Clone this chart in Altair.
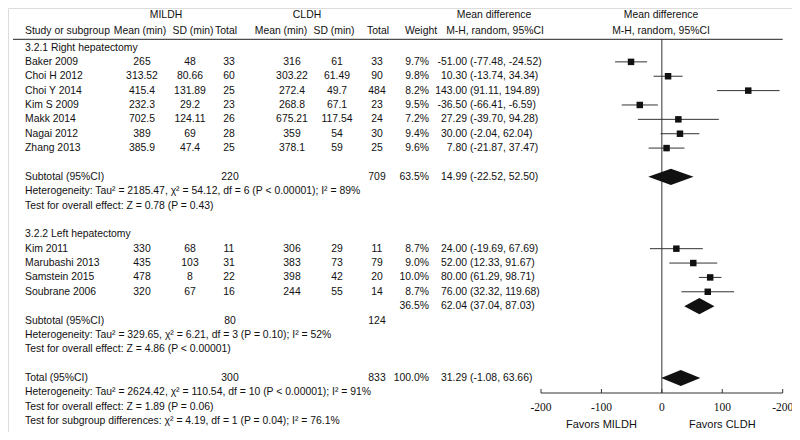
import altair as alt
import pandas as pd

# ---------------- data ----------------
group1_names = ["Baker 2009", "Choi H 2012", "Choi Y 2014", "Kim S 2009", "Makk 2014", "Nagai 2012", "Zhang 2013"]
group1_m_mean = [265, 313.52, 415.4, 232.3, 702.5, 389, 385.9]
group1_m_sd = [48, 80.66, 131.89, 29.2, 124.11, 69, 47.4]
group1_m_n = [33, 60, 25, 23, 26, 28, 25]
group1_c_mean = [316, 303.22, 272.4, 268.8, 675.21, 359, 378.1]
group1_c_sd = [61, 61.49, 49.7, 67.1, 117.54, 54, 59]
group1_c_n = [33, 90, 484, 23, 24, 30, 25]
group1_weight = [9.7, 9.8, 8.2, 9.5, 7.2, 9.4, 9.6]
group1_est = [-51.00, 10.30, 143.00, -36.50, 27.29, 30.00, 7.80]
group1_lo = [-77.48, -13.74, 91.11, -66.41, -39.70, -2.04, -21.87]
group1_hi = [-24.52, 34.34, 194.89, -6.59, 94.28, 62.04, 37.47]

group2_names = ["Kim 2011", "Marubashi 2013", "Samstein 2015", "Soubrane 2006"]
group2_m_mean = [330, 435, 478, 320]
group2_m_sd = [68, 103, 8, 67]
group2_m_n = [11, 31, 22, 16]
group2_c_mean = [306, 383, 398, 244]
group2_c_sd = [29, 73, 42, 55]
group2_c_n = [11, 79, 20, 14]
group2_weight = [8.7, 9.0, 10.0, 8.7]
group2_est = [24.00, 52.00, 80.00, 76.00]
group2_lo = [-19.69, 12.33, 61.29, 32.32]
group2_hi = [67.69, 91.67, 98.71, 119.68]

# pooled estimates: label, MILDH total, CLDH total, weight, est, lo, hi
pooled_labels = ["Subtotal (95%CI)", "Subtotal (95%CI)", "Total (95%CI)"]
pooled_m_n = [220, 80, 300]
pooled_c_n = [709, 124, 833]
pooled_weight = [63.5, 36.5, 100.0]
pooled_est = [14.99, 62.04, 31.29]
pooled_lo = [-22.52, 37.04, -1.08]
pooled_hi = [52.50, 87.03, 63.66]

subgroup_titles = ["3.2.1 Right hepatectomy", "3.2.2 Left hepatectomy"]
notes_group1 = ["Heterogeneity: Tau\u00b2 = 2185.47, \u03c7\u00b2 = 54.12, df = 6 (P < 0.00001); I\u00b2 = 89%",
                "Test for overall effect: Z = 0.78 (P = 0.43)"]
notes_group2 = ["Heterogeneity: Tau\u00b2 = 329.65, \u03c7\u00b2 = 6.21, df = 3 (P = 0.10); I\u00b2 = 52%",
                "Test for overall effect: Z = 4.86 (P < 0.00001)"]
notes_total = ["Heterogeneity: Tau\u00b2 = 2624.42, \u03c7\u00b2 = 110.54, df = 10 (P < 0.00001); I\u00b2 = 91%",
               "Test for overall effect: Z = 1.89 (P = 0.06)",
               "Test for subgroup differences: \u03c7\u00b2 = 4.19, df = 1 (P = 0.04); I\u00b2 = 76.1%"]

tick_values = [-200, -100, 0, 100, 200]
tick_labels = ["-200", "-100", "0", "100", "-200"]
favors_labels = ["Favors MILDH", "Favors CLDH"]
favors_at = [-100, 100]

# ---------------- row layout ----------------
g1_rows = list(range(1, 8))
g2_rows = list(range(14, 18))

studies = pd.DataFrame({
    "row": g1_rows + g2_rows,
    "name": group1_names + group2_names,
    "m_mean": [str(v) for v in group1_m_mean + group2_m_mean],
    "m_sd": [str(v) for v in group1_m_sd + group2_m_sd],
    "m_n": [str(v) for v in group1_m_n + group2_m_n],
    "c_mean": [str(v) for v in group1_c_mean + group2_c_mean],
    "c_sd": [str(v) for v in group1_c_sd + group2_c_sd],
    "c_n": [str(v) for v in group1_c_n + group2_c_n],
    "weight": [f"{w:.1f}%" for w in group1_weight + group2_weight],
    "est": group1_est + group2_est,
    "lo": group1_lo + group2_lo,
    "hi": group1_hi + group2_hi,
})
studies["est_txt"] = studies["est"].map(lambda v: f"{v:.2f}")
studies["ci_txt"] = [f"({a:.2f}, {b:.2f})" for a, b in zip(studies["lo"], studies["hi"])]

pooled_rows = [9, 18, 23]          # rows of the diamonds / weights
pooled_label_rows = [9, 19, 23]    # rows of the labels and totals
pooled = pd.DataFrame({
    "row": pooled_rows,
    "lrow": pooled_label_rows,
    "label": pooled_labels,
    "m_n": [str(v) for v in pooled_m_n],
    "c_n": [str(v) for v in pooled_c_n],
    "weight": [f"{w:.1f}%" for w in pooled_weight],
    "est_txt": [f"{v:.2f}" for v in pooled_est],
    "ci_txt": [f"({a:.2f}, {b:.2f})" for a, b in zip(pooled_lo, pooled_hi)],
})

left_text = pd.DataFrame({
    "row": [0, 13, 10, 11, 20, 21, 24, 25, 26],
    "text": [subgroup_titles[0], subgroup_titles[1]] + notes_group1 + notes_group2 + notes_total,
})

H = 0.56
dia_rows = []
for i, (r, e, lo, hi) in enumerate(zip(pooled_rows, pooled_est, pooled_lo, pooled_hi)):
    dia_rows += [
        {"id": i, "x": lo, "y1": r, "y2": r},
        {"id": i, "x": e, "y1": r - H, "y2": r + H},
        {"id": i, "x": hi, "y1": r, "y2": r},
    ]
diamonds = pd.DataFrame(dia_rows)

ticks = pd.DataFrame({"v": tick_values, "lab": tick_labels})
favors = pd.DataFrame({"v": favors_at, "lab": favors_labels})
zero = pd.DataFrame({"v": [0]})
axis_span = pd.DataFrame({"a": [tick_values[0]], "b": [tick_values[-1]]})

# ---------------- scales & styles ----------------
FONT = "Liberation Sans"
FS = 10.4
ROW0 = 39.5
STEP = 14.37
yscale = alt.Scale(domain=[0, 26], range=[ROW0, ROW0 + 26 * STEP], nice=False, zero=False)
xscale = alt.Scale(domain=[-200, 200], range=[533, 774.7], nice=False, zero=False)
Y = alt.Y("row:Q", scale=yscale, axis=None)
X = lambda f: alt.X(f, scale=xscale, axis=None)

def coltext(df, field, x, align="center", yfield="row"):
    return alt.Chart(df).mark_text(align=align, baseline="middle", font=FONT, fontSize=FS, color="#111").encode(
        x=alt.value(x), y=alt.Y(f"{yfield}:Q", scale=yscale, axis=None), text=f"{field}:N")

def label(text, x, y, align="center", font=FONT, size=FS):
    return alt.Chart(alt.Data(values=[{}])).mark_text(
        text=text, align=align, baseline="middle", font=font, fontSize=size, color="#111"
    ).encode(x=alt.value(x), y=alt.value(y))

layers = []
# headers
layers += [
    label("MILDH", 158, 6.5), label("CLDH", 299, 6.5),
    label("Mean difference", 486, 6.5), label("Mean difference", 653, 6.5),
    label("Study or subgroup", 17, 23, align="left"),
    label("Mean (min)", 132, 23), label("SD (min)", 185, 23), label("Total", 218, 23),
    label("Mean (min)", 273, 23), label("SD (min)", 326, 23), label("Total", 370, 23),
    label("Weight", 413, 23), label("M-H, random, 95%CI", 487, 23), label("M-H, random, 95%CI", 653, 23),
]
# header rule
layers.append(alt.Chart(alt.Data(values=[{}])).mark_rule(color="#222", strokeWidth=1).encode(
    x=alt.value(5), x2=alt.value(774.7), y=alt.value(31.3)))

# study table
layers += [
    coltext(studies, "name", 17, "left"),
    coltext(studies, "m_mean", 134), coltext(studies, "m_sd", 182), coltext(studies, "m_n", 221),
    coltext(studies, "c_mean", 284), coltext(studies, "c_sd", 329), coltext(studies, "c_n", 369),
    coltext(studies, "weight", 421, "right"),
    coltext(studies, "est_txt", 459, "right"),
    coltext(studies, "ci_txt", 462, "left"),
]
# pooled rows
layers += [
    coltext(pooled, "label", 17, "left", "lrow"),
    coltext(pooled, "m_n", 222, "center", "lrow"),
    coltext(pooled, "c_n", 369, "center", "lrow"),
    coltext(pooled, "weight", 421, "right"),
    coltext(pooled, "est_txt", 459, "right"),
    coltext(pooled, "ci_txt", 462, "left"),
]
layers.append(coltext(left_text, "text", 17, "left"))

# forest plot
layers.append(alt.Chart(zero).mark_rule(color="#333", strokeWidth=1).encode(
    x=X("v:Q"), y=alt.value(31), y2=alt.value(385)))
layers.append(alt.Chart(studies).mark_rule(color="#333", strokeWidth=1).encode(
    x=X("lo:Q"), x2="hi:Q", y=Y))
layers.append(alt.Chart(studies).mark_square(size=42, color="#111", opacity=1).encode(
    x=X("est:Q"), y=Y))
layers.append(alt.Chart(diamonds).mark_area(color="#111", opacity=1).encode(
    x=X("x:Q"), y=alt.Y("y1:Q", scale=yscale, axis=None), y2="y2:Q", detail="id:N"))

# bottom axis
layers.append(alt.Chart(axis_span).mark_rule(color="#333", strokeWidth=1).encode(
    x=X("a:Q"), x2="b:Q", y=alt.value(385)))
layers.append(alt.Chart(ticks).mark_rule(color="#333", strokeWidth=1).encode(
    x=X("v:Q"), y=alt.value(381), y2=alt.value(385)))
layers.append(alt.Chart(ticks).mark_text(font="Liberation Serif", fontSize=11.5, color="#111", baseline="middle").encode(
    x=X("v:Q"), y=alt.value(400), text="lab:N"))
layers.append(alt.Chart(favors).mark_text(font=FONT, fontSize=11, color="#111", baseline="middle").encode(
    x=X("v:Q"), y=alt.value(417), text="lab:N"))

chart = alt.layer(*layers).properties(
    width=784, height=424, autosize="none", padding=0
).configure_view(stroke=None).configure(background="white")

chart.save("out.html", embed_options={"renderer": "svg", "actions": False})
